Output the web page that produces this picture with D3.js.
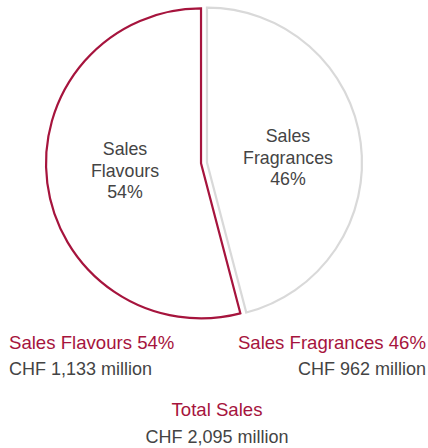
<!DOCTYPE html>
<html>
<head>
<meta charset="utf-8">
<script src="https://cdn.jsdelivr.net/npm/d3@7"></script>
<style>
  body { margin: 0; background: #fff; }
  text { font-family: "Liberation Sans", Arial, sans-serif; }
</style>
</head>
<body>
<script>
// data
var segments = ["Fragrances", "Flavours"];
var sales = [962, 1133];            // CHF million
var shares = [46, 54];              // percent
var totalSales = 2095;

var width = 428, height = 448;
var red = "#a6143d", grey = "#d9d9d9", textGrey = "#444";

var svg = d3.select("body").append("svg")
    .attr("width", width)
    .attr("height", height);

var cx = 204, cy = 163, r = 155, explode = 3;

var pie = d3.pie().sort(null).value(function(d){ return d; });
var arc = d3.arc().innerRadius(0).outerRadius(r);
var arcs = pie(sales);

var g = svg.append("g").attr("transform", "translate(" + cx + "," + cy + ")");

g.selectAll("path")
  .data(arcs)
  .enter().append("path")
    .attr("d", arc)
    .attr("fill", "#fff")
    .attr("stroke", function(d, i){ return i == 1 ? red : grey; })
    .attr("stroke-width", 2.2)
    .attr("stroke-linejoin", "miter")
    .attr("transform", function(d){
      var a = (d.startAngle + d.endAngle) / 2;
      return "translate(" + (Math.sin(a) * explode) + "," + (-Math.cos(a) * explode) + ")";
    });

// labels inside the slices
var inner = [
  {x: -79, y: -8, lines: ["Sales", "Flavours", shares[1] + "%"]},
  {x: 84, y: -21, lines: ["Sales", "Fragrances", shares[0] + "%"]}
];
inner.forEach(function(l){
  var t = g.append("text")
    .attr("text-anchor", "middle")
    .attr("fill", textGrey)
    .attr("font-size", 17.8);
  l.lines.forEach(function(s, j){
    t.append("tspan").attr("x", l.x).attr("y", l.y + j * 21.5).text(s);
  });
});

// legend below
function fmt(v){ return "CHF " + d3.format(",")(v) + " million"; }

svg.append("text").attr("x", 9).attr("y", 349).attr("fill", red).attr("font-size", 18.6)
  .text("Sales " + segments[1] + " " + shares[1] + "%");
svg.append("text").attr("x", 9).attr("y", 375).attr("fill", textGrey).attr("font-size", 18)
  .text(fmt(sales[1]));

svg.append("text").attr("x", 426).attr("y", 349).attr("text-anchor", "end").attr("fill", red).attr("font-size", 18.6)
  .text("Sales " + segments[0] + " " + shares[0] + "%");
svg.append("text").attr("x", 426).attr("y", 375).attr("text-anchor", "end").attr("fill", textGrey).attr("font-size", 18)
  .text(fmt(sales[0]));

svg.append("text").attr("x", 217).attr("y", 416).attr("text-anchor", "middle").attr("fill", red).attr("font-size", 18.6)
  .text("Total Sales");
svg.append("text").attr("x", 217).attr("y", 443).attr("text-anchor", "middle").attr("fill", textGrey).attr("font-size", 18)
  .text(fmt(totalSales));
</script>
</body>
</html>
